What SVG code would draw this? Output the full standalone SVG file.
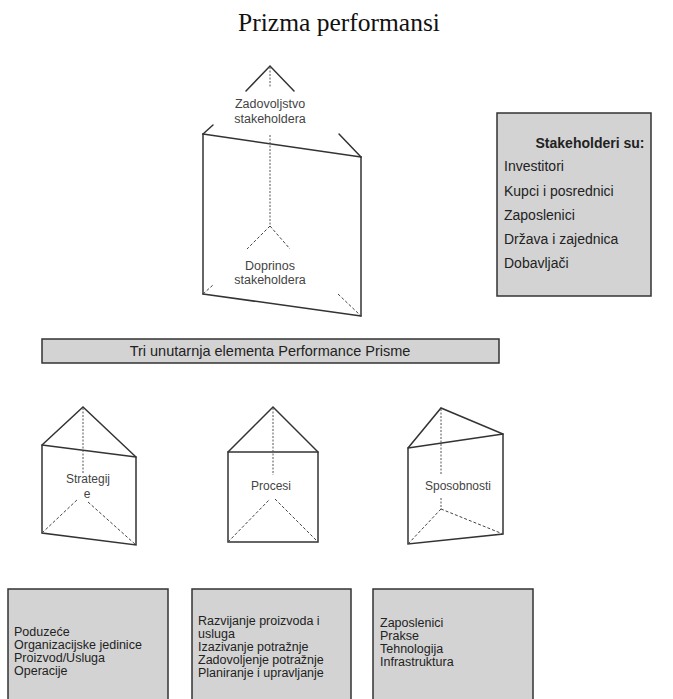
<svg xmlns="http://www.w3.org/2000/svg" width="673" height="699" viewBox="0 0 673 699">
<style>
.ln{fill:none;stroke:#333;stroke-width:1.5;stroke-linecap:round}
.dot{fill:none;stroke:#555;stroke-width:1;stroke-dasharray:2 1.5}
.dash{fill:none;stroke:#444;stroke-width:1;stroke-dasharray:3 2}
.box{fill:#d3d3d3;stroke:#333;stroke-width:1.5}
.pl{font-family:"Liberation Sans",Arial,sans-serif;font-size:12px;fill:#444;text-anchor:middle}
.pt{font-size:12.5px}
.bt{font-family:"Liberation Sans",Arial,sans-serif;font-size:12.5px;fill:#222}
.st{font-family:"Liberation Sans",Arial,sans-serif;font-size:14px;fill:#222}
</style>
<rect width="673" height="699" fill="#fff"/>
<text x="339" y="31" font-family="Liberation Serif,Times New Roman,serif" font-size="25.5" text-anchor="middle" fill="#111">Prizma performansi</text>

<g id="main-prism">
<polyline class="ln" points="246,91 270,66 294,91"/>
<line class="dot" x1="270" y1="67" x2="270" y2="87"/>
<text class="pl pt" x="270" y="108">Zadovoljstvo</text>
<text class="pl pt" x="270" y="123">stakeholdera</text>
<line class="ln" x1="203" y1="134" x2="213" y2="125"/>
<line class="ln" x1="203" y1="134" x2="361" y2="157"/>
<line class="ln" x1="339" y1="134" x2="361" y2="157"/>
<line class="ln" x1="203" y1="134" x2="203" y2="294"/>
<line class="ln" x1="361" y1="157" x2="361" y2="316"/>
<line class="ln" x1="203" y1="294" x2="361" y2="316"/>
<line class="dash" x1="203" y1="294" x2="213" y2="285"/>
<line class="dash" x1="338" y1="294" x2="361" y2="316"/>
<line class="dot" x1="270" y1="135" x2="270" y2="226"/>
<line class="dash" x1="270" y1="226" x2="247" y2="249"/>
<line class="dash" x1="270" y1="226" x2="290" y2="249"/>
<text class="pl pt" x="270" y="270">Doprinos</text>
<text class="pl pt" x="270" y="284">stakeholdera</text>
</g>

<g id="stakeholders-box">
<rect class="box" x="497" y="113" width="154" height="183"/>
<text class="st" x="590" y="148" text-anchor="middle" font-weight="bold">Stakeholderi su:</text>
<text class="st" x="504" y="171">Investitori</text>
<text class="st" x="504" y="196">Kupci i posrednici</text>
<text class="st" x="504" y="220">Zaposlenici</text>
<text class="st" x="504" y="244">Država i zajednica</text>
<text class="st" x="504" y="268">Dobavljači</text>
</g>

<g id="header-bar">
<rect class="box" x="42" y="339" width="457" height="24"/>
<text x="270" y="356" font-family="Liberation Sans,Arial,sans-serif" font-size="14.5" fill="#222" text-anchor="middle">Tri unutarnja elementa Performance Prisme</text>
</g>

<g id="prism-strategije">
<polygon class="ln" points="42,445 83,407 136,457 136,545 42,533"/>
<line class="ln" x1="42" y1="445" x2="136" y2="457"/>
<line class="dot" x1="83" y1="408" x2="83" y2="473"/>
<line class="dash" x1="42" y1="533" x2="78" y2="499"/>
<line class="dash" x1="88" y1="502" x2="136" y2="545"/>
<text class="pl" x="88" y="483">Strategij</text>
<text class="pl" x="87" y="498">e</text>
</g>

<g id="prism-procesi">
<polygon class="ln" points="228,452 273,407 318,452 318,542 228,542"/>
<line class="ln" x1="228" y1="452" x2="318" y2="452"/>
<line class="dot" x1="273" y1="408" x2="273" y2="475"/>
<line class="dash" x1="228" y1="542" x2="270" y2="499"/>
<line class="dash" x1="275" y1="499" x2="318" y2="542"/>
<text class="pl" x="271" y="490">Procesi</text>
</g>

<g id="prism-sposobnosti">
<polygon class="ln" points="408,448 441,408 503,434 503,534 408,544"/>
<line class="ln" x1="408" y1="448" x2="503" y2="434"/>
<line class="dot" x1="441" y1="409" x2="441" y2="475"/>
<line class="dot" x1="441" y1="498" x2="441" y2="509"/>
<line class="dash" x1="441" y1="509" x2="408" y2="544"/>
<line class="dash" x1="441" y1="509" x2="503" y2="534"/>
<text class="pl" x="458" y="490">Sposobnosti</text>
</g>

<g id="box-strategije">
<rect class="box" x="8" y="589" width="160" height="115"/>
<text class="bt" x="14" y="636">Poduzeće</text>
<text class="bt" x="14" y="649">Organizacijske jedinice</text>
<text class="bt" x="14" y="662">Proizvod/Usluga</text>
<text class="bt" x="14" y="675">Operacije</text>
</g>

<g id="box-procesi">
<rect class="box" x="192" y="589" width="159" height="115"/>
<text class="bt" x="198" y="625">Razvijanje proizvoda i</text>
<text class="bt" x="198" y="638">usluga</text>
<text class="bt" x="198" y="651">Izazivanje potražnje</text>
<text class="bt" x="198" y="664">Zadovoljenje potražnje</text>
<text class="bt" x="198" y="677">Planiranje i upravljanje</text>
</g>

<g id="box-sposobnosti">
<rect class="box" x="373" y="589" width="160" height="115"/>
<text class="bt" x="380" y="627">Zaposlenici</text>
<text class="bt" x="380" y="640">Prakse</text>
<text class="bt" x="380" y="653">Tehnologija</text>
<text class="bt" x="380" y="666">Infrastruktura</text>
</g>

<g id="connectors"></g>
</svg>
